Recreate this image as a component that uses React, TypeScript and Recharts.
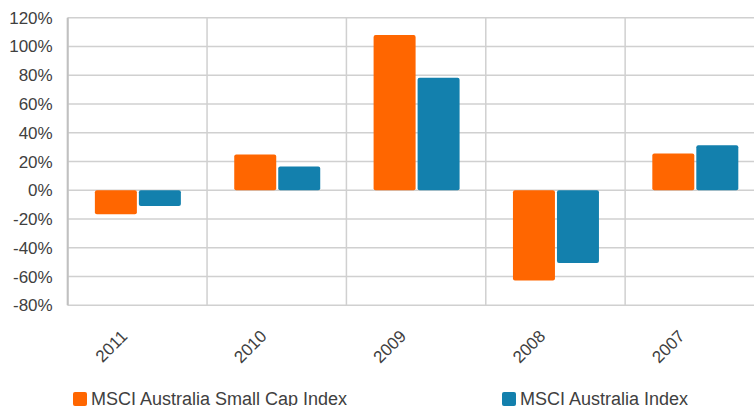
import React from 'react';
import { BarChart, Bar, XAxis, YAxis, CartesianGrid } from 'recharts';

const years = ['2011', '2010', '2009', '2008', '2007'];
const smallCap = [-16.7, 24.8, 108, -62.8, 25.5];
const australia = [-10.9, 16.5, 78.2, -50.5, 31.3];
const yTicks = [-80, -60, -40, -20, 0, 20, 40, 60, 80, 100, 120];

const ORANGE = '#FF6600';
const BLUE = '#1380AD';
const TEXT = '#404040';
const FONT = '"Liberation Sans", Arial, sans-serif';

const data = years.map((year, i) => ({ year, smallCap: smallCap[i], australia: australia[i] }));

const YearTick = (props: any) => {
  const { x, y, payload } = props;
  const tx = x - 9;
  const ty = y + 32;
  return (
    <text
      x={tx}
      y={ty}
      transform={`rotate(-45, ${tx}, ${ty})`}
      textAnchor="end"
      fill={TEXT}
      fontSize={17}
      fontFamily={FONT}
    >
      {payload.value}
    </text>
  );
};

const LegendItem: React.FC<{ left: number; color: string; label: string }> = ({ left, color, label }) => (
  <div style={{ position: 'absolute', left, top: 390, display: 'flex', alignItems: 'center', height: 18 }}>
    <div style={{ width: 14, height: 14, background: color, borderRadius: 2, marginRight: 4 }} />
    <span style={{ fontFamily: FONT, fontSize: 18, lineHeight: '18px', color: TEXT, whiteSpace: 'nowrap' }}>
      {label}
    </span>
  </div>
);

export default function App() {
  return (
    <div style={{ position: 'absolute', left: 0, top: 0, width: 754, height: 406, overflow: 'hidden', background: '#fff' }}>
      <BarChart
        width={780}
        height={406}
        data={data}
        margin={{ top: 17.7, right: 15.5, left: 0, bottom: 0 }}
        barCategoryGap="19.5%"
        barGap={2}
      >
        <CartesianGrid
          stroke="#d0d0d0"
          strokeWidth={1.5}
          verticalCoordinatesGenerator={({ offset }: any) =>
            years.map((_, i) => offset.left + (i * offset.width) / years.length).concat(offset.left + offset.width)
          }
        />
        <XAxis
          dataKey="year"
          height={100.7}
          axisLine={false}
          tickLine={false}
          tickSize={0}
          tickMargin={0}
          interval={0}
          tick={<YearTick />}
        />
        <YAxis
          width={67.7}
          domain={[-80, 120]}
          ticks={yTicks}
          interval={0}
          tickFormatter={(v: number) => `${v}%`}
          axisLine={{ stroke: '#c0c0c0', strokeWidth: 2 }}
          tickLine={false}
          tickSize={0}
          tickMargin={15}
          tick={{ fill: TEXT, fontSize: 17, fontFamily: FONT }}
        />
        <Bar dataKey="smallCap" fill={ORANGE} radius={2} isAnimationActive={false} />
        <Bar dataKey="australia" fill={BLUE} radius={2} isAnimationActive={false} />
      </BarChart>
      <LegendItem left={73} color={ORANGE} label="MSCI Australia Small Cap Index" />
      <LegendItem left={502} color={BLUE} label="MSCI Australia Index" />
    </div>
  );
}
